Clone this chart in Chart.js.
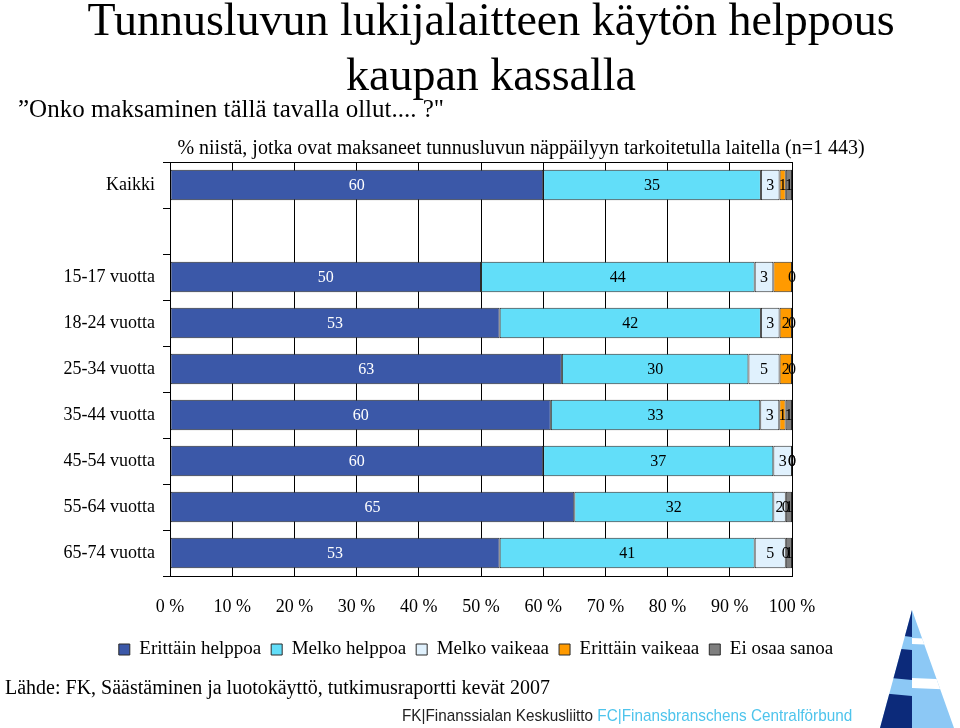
<!DOCTYPE html>
<html lang="fi">
<head>
<meta charset="utf-8">
<script src="https://cdn.jsdelivr.net/npm/chart.js@4"></script>
<style>
  body { margin: 0; background: #fff; }
  #sivu { position: relative; width: 960px; height: 728px; overflow: hidden; font-family: 'Liberation Serif', 'Times New Roman', serif; color: #000; }
  #kaavio { position: absolute; left: 0; top: 0; }
  .teksti { position: absolute; white-space: nowrap; }
  #otsikko { left: 0; width: 982px; top: -8px; text-align: center; font-size: 46px; line-height: 55px; }
  #kysymys { left: 18px; top: 95px; font-size: 25px; }
  #perusjoukko { left: 0; width: 1042px; top: 136px; text-align: center; font-size: 20px; }
  #lahde { left: 5px; top: 676px; font-size: 20px; }
  #logoteksti { left: 402px; top: 706px; font-family: 'Liberation Sans Narrow', 'Arial Narrow', 'Liberation Sans', sans-serif; font-size: 17px; color: #222; transform: scaleX(0.9); transform-origin: 0 0; }
  #logoteksti span { color: #4ec4ec; }
  #logo { position: absolute; left: 880px; top: 600px; }
</style>
</head>
<body>
<div id="sivu">
  <canvas id="kaavio" width="960" height="728"></canvas>
  <div class="teksti" id="otsikko">Tunnusluvun lukijalaitteen käytön helppous<br>kaupan kassalla</div>
  <div class="teksti" id="kysymys">”Onko maksaminen tällä tavalla ollut.... ?"</div>
  <div class="teksti" id="perusjoukko">% niistä, jotka ovat maksaneet tunnusluvun näppäilyyn tarkoitetulla laitella (n=1 443)</div>
  <div class="teksti" id="lahde">Lähde: FK, Säästäminen ja luotokäyttö, tutkimusraportti kevät 2007</div>
  <div class="teksti" id="logoteksti">FK|Finanssialan Keskusliitto <span>FC|Finansbranschens Centralförbund</span></div>
  <svg id="logo" width="80" height="128" viewBox="0 0 80 128">
    <defs><clipPath id="kolmio"><polygon points="32,10 0,128 74,128"/></clipPath></defs>
    <g clip-path="url(#kolmio)">
      <rect x="0" y="0" width="80" height="128" fill="#8cc8f5"/>
      <polygon points="0,0 32,0 32,37 0,33" fill="#0c2a7a"/>
      <polygon points="0,47 32,50 32,80 0,77" fill="#0c2a7a"/>
      <polygon points="0,93 32,96 32,128 0,128" fill="#0c2a7a"/>
      <polygon points="32,38 80,40 80,46 32,44" fill="#fff"/>
      <polygon points="32,78 80,80 80,90 32,88" fill="#fff"/>
    </g>
  </svg>
</div>
<script>
// Kategoriat (tyhjä rivi erottaa Kaikki-rivin ikäryhmistä)
const kategoriat = ['Kaikki', '', '15-17 vuotta', '18-24 vuotta', '25-34 vuotta', '35-44 vuotta', '45-54 vuotta', '55-64 vuotta', '65-74 vuotta'];

// Prosenttiluvut riveittäin
const erittainHelppoa = [60, null, 50, 53, 63, 60, 60, 65, 53];
const melkoHelppoa = [35, null, 44, 42, 30, 33, 37, 32, 41];
const melkoVaikeaa = [3, null, 3, 3, 5, 3, 3, 2, 5];
const erittainVaikeaa = [1, null, 3, 2, 2, 1, 0, 0, 0];
const eiOsaaSanoa = [1, null, 0, 0, 0, 1, 0, 1, 1];

const xTicks = [0, 10, 20, 30, 40, 50, 60, 70, 80, 90, 100];

// Arvoja, joiden tekstiä ei näy alkuperäisessä kuvassa: [sarja, rivi]
const piilotetut = [[3, 2]];

const sarjat = [erittainHelppoa, melkoHelppoa, melkoVaikeaa, erittainVaikeaa, eiOsaaSanoa];
const rivisumma = kategoriat.map((k, j) => sarjat.reduce((s, a) => s + (a[j] || 0), 0));

// 100 % pinottu: jokainen rivi skaalataan summaansa
const osuus = sarja => sarja.map((v, j) => v == null ? null : v / rivisumma[j] * 100);

function sarja(nimi, arvot, vari) {
    return {
        label: nimi,
        data: osuus(arvot),
        arvot: arvot,
        backgroundColor: vari,
        borderColor: '#2b2b2b',
        borderWidth: 1,
        borderSkipped: false,
        barPercentage: 0.66,
        categoryPercentage: 1
    };
}

const arvoTekstit = {
    id: 'arvoTekstit',
    afterDatasetsDraw(chart) {
        const ctx = chart.ctx;
        ctx.save();
        ctx.font = '16px "Liberation Serif"';
        ctx.textAlign = 'center';
        ctx.textBaseline = 'middle';
        chart.data.datasets.forEach((ds, i) => {
            chart.getDatasetMeta(i).data.forEach((bar, j) => {
                const arvo = ds.arvot[j];
                if (arvo == null || piilotetut.some(p => p[0] === i && p[1] === j)) return;
                ctx.fillStyle = i === 0 ? '#fff' : '#000';
                ctx.fillText(arvo, (bar.x + bar.base) / 2, bar.y + 1);
            });
        });
        ctx.restore();
    }
};

const kehys = {
    id: 'kehys',
    afterDraw(chart) {
        const a = chart.chartArea;
        const ctx = chart.ctx;
        ctx.save();
        ctx.strokeStyle = '#000';
        ctx.lineWidth = 1;
        ctx.strokeRect(Math.round(a.left) + 0.5, Math.round(a.top) + 0.5, Math.round(a.right - a.left), Math.round(a.bottom - a.top));
        ctx.restore();
    }
};

const fontti = { family: "'Liberation Serif', 'Times New Roman', serif", size: 18 };

new Chart(document.getElementById('kaavio'), {
    type: 'bar',
    data: {
        labels: kategoriat,
        datasets: [
            sarja('Erittäin helppoa', erittainHelppoa, '#3b58a8'),
            sarja('Melko helppoa', melkoHelppoa, '#62def9'),
            sarja('Melko vaikeaa', melkoVaikeaa, '#e0f1fd'),
            sarja('Erittäin vaikeaa', erittainVaikeaa, '#ff9a00'),
            sarja('Ei osaa sanoa', eiOsaaSanoa, '#7f7f7f')
        ]
    },
    options: {
        indexAxis: 'y',
        responsive: false,
        animation: false,
        events: [],
        layout: { padding: { top: 162, left: 0, right: 8, bottom: 59 } },
        scales: {
            x: {
                stacked: true,
                min: 0,
                max: 100,
                afterBuildTicks: s => { s.ticks = xTicks.map(v => ({ value: v })); },
                ticks: { color: '#000', font: fontti, padding: 20, callback: v => v + ' %' },
                grid: { color: '#000', drawTicks: false },
                border: { color: '#000' },
                afterFit: s => { s.height = 54; }
            },
            y: {
                stacked: true,
                ticks: { color: '#000', font: fontti, padding: 8 },
                grid: { offset: true, drawOnChartArea: false, tickLength: 7, color: '#000' },
                border: { color: '#000' },
                afterFit: s => { s.width = 170; }
            },
            y2: {
                type: 'category',
                position: 'right',
                labels: kategoriat,
                grid: { display: false },
                ticks: { display: false },
                border: { display: false },
                afterFit: s => { s.width = 160; }
            }
        },
        plugins: {
            legend: {
                position: 'bottom',
                labels: { color: '#000', font: { family: fontti.family, size: 19 }, boxWidth: 11, boxHeight: 11, padding: 10 }
            },
            tooltip: { enabled: false }
        }
    },
    plugins: [arvoTekstit, kehys]
});
</script>
</body>
</html>
